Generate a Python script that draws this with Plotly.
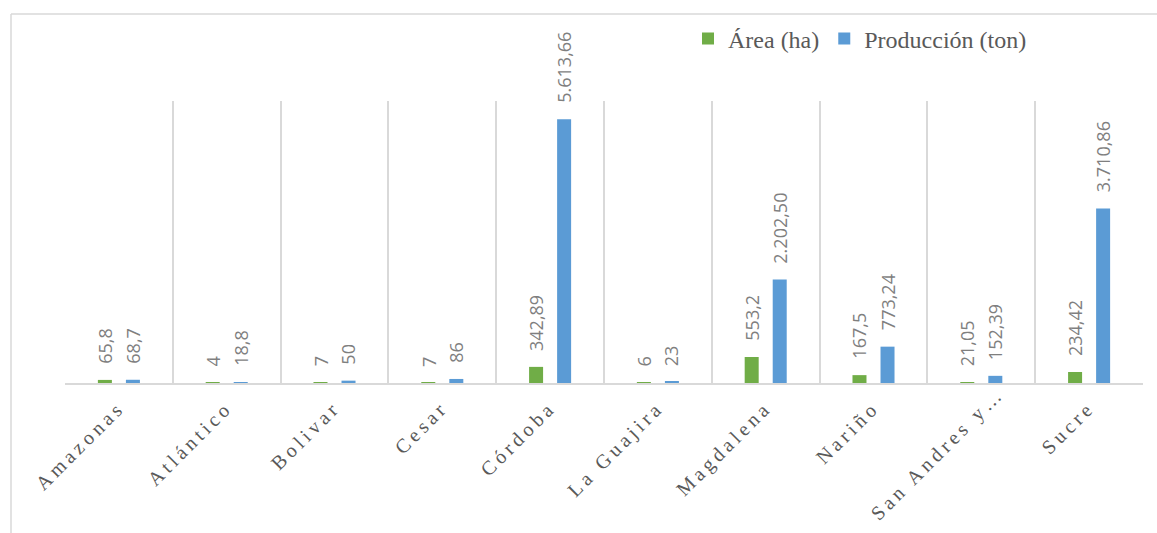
import plotly.graph_objects as go

categories = ["Amazonas", "Atlántico", "Bolivar", "Cesar", "Córdoba", "La Guajira",
              "Magdalena", "Nariño", "San Andres y…", "Sucre"]
area_ha = [65.8, 4, 7, 7, 342.89, 6, 553.2, 167.5, 21.05, 234.42]
produccion_ton = [68.7, 18.8, 50, 86, 5613.66, 23, 2202.50, 773.24, 152.39, 3710.86]
area_labels = ["65,8", "4", "7", "7", "342,89", "6", "553,2", "167,5", "21,05", "234,42"]
prod_labels = ["68,7", "18,8", "50", "86", "5.613,66", "23", "2.202,50", "773,24", "152,39", "3.710,86"]

GREEN = "#70ad47"
BLUE = "#5b9bd5"
GRID = "#d9d9d9"
LABEL = "#7f7f7f"
TEXT = "#595959"

fig = go.Figure()
fig.add_trace(go.Bar(name="Área (ha)", x=categories, y=area_ha,
                     marker=dict(color=GREEN, line=dict(width=0))))
fig.add_trace(go.Bar(name="Producción (ton)", x=categories, y=produccion_ton,
                     marker=dict(color=BLUE, line=dict(width=0))))

annotations = []
for cat, v, lab in zip(categories, area_ha, area_labels):
    annotations.append(dict(x=cat, y=v, xref="x", yref="y", text=lab, showarrow=False,
                            textangle=-90, xshift=-14, yshift=14, yanchor="bottom",
                            xanchor="center",
                            font=dict(family="Open Sans", size=18, color=LABEL)))
for cat, v, lab in zip(categories, produccion_ton, prod_labels):
    annotations.append(dict(x=cat, y=v, xref="x", yref="y", text=lab, showarrow=False,
                            textangle=-90, xshift=14, yshift=14, yanchor="bottom",
                            xanchor="center",
                            font=dict(family="Open Sans", size=18, color=LABEL)))

# outer chart border (left and top edges visible)
L, R, T, B = 65, 14, 101, 150
W, H = 1157, 533
pw, ph = W - L - R, H - T - B
def px_to_paper_x(px):
    return (px - L) / pw
def px_to_paper_y(py):
    return (H - B - py) / ph

shapes = [
    dict(type="line", xref="paper", yref="paper",
         x0=px_to_paper_x(11), x1=px_to_paper_x(1165),
         y0=px_to_paper_y(14), y1=px_to_paper_y(14),
         line=dict(color=GRID, width=1.5)),
    dict(type="line", xref="paper", yref="paper",
         x0=px_to_paper_x(11), x1=px_to_paper_x(11),
         y0=px_to_paper_y(14), y1=px_to_paper_y(545),
         line=dict(color=GRID, width=1.5)),
]

fig.update_layout(
    width=W, height=H, autosize=False,
    margin=dict(l=L, r=R, t=T, b=B, pad=0),
    paper_bgcolor="white", plot_bgcolor="white",
    barmode="group", bargap=0.48, bargroupgap=0.5,
    showlegend=True,
    legend=dict(orientation="h", x=px_to_paper_x(688), xanchor="left",
                y=px_to_paper_y(39), yanchor="middle",
                font=dict(family="Liberation Serif", size=24, color=TEXT),
                bgcolor="rgba(0,0,0,0)", itemwidth=30, tracegroupgap=0),
    annotations=annotations,
    shapes=shapes,
    xaxis=dict(type="category", tickson="boundaries", showgrid=True,
               gridcolor=GRID, gridwidth=1.5, showline=True, linecolor=GRID,
               linewidth=2, ticks="", tickangle=-45,
               tickfont=dict(family="Liberation Serif", size=20, color=TEXT),
               ticklabelstandoff=3),
    yaxis=dict(range=[0, 6000], showgrid=False, showticklabels=False,
               zeroline=False, showline=False, ticks=""),
)

post = """
document.querySelectorAll('.xtick text').forEach(function(t){
  t.style.letterSpacing='4px';
  if ((t.textContent || '').indexOf('San Andres') === 0) {
    var tr = t.getAttribute('transform') || '';
    t.setAttribute('transform', 'translate(17,-14) ' + tr);
  }
});
"""
fig.write_html("out.html", post_script=post,
               config={"responsive": False, "displayModeBar": False})
